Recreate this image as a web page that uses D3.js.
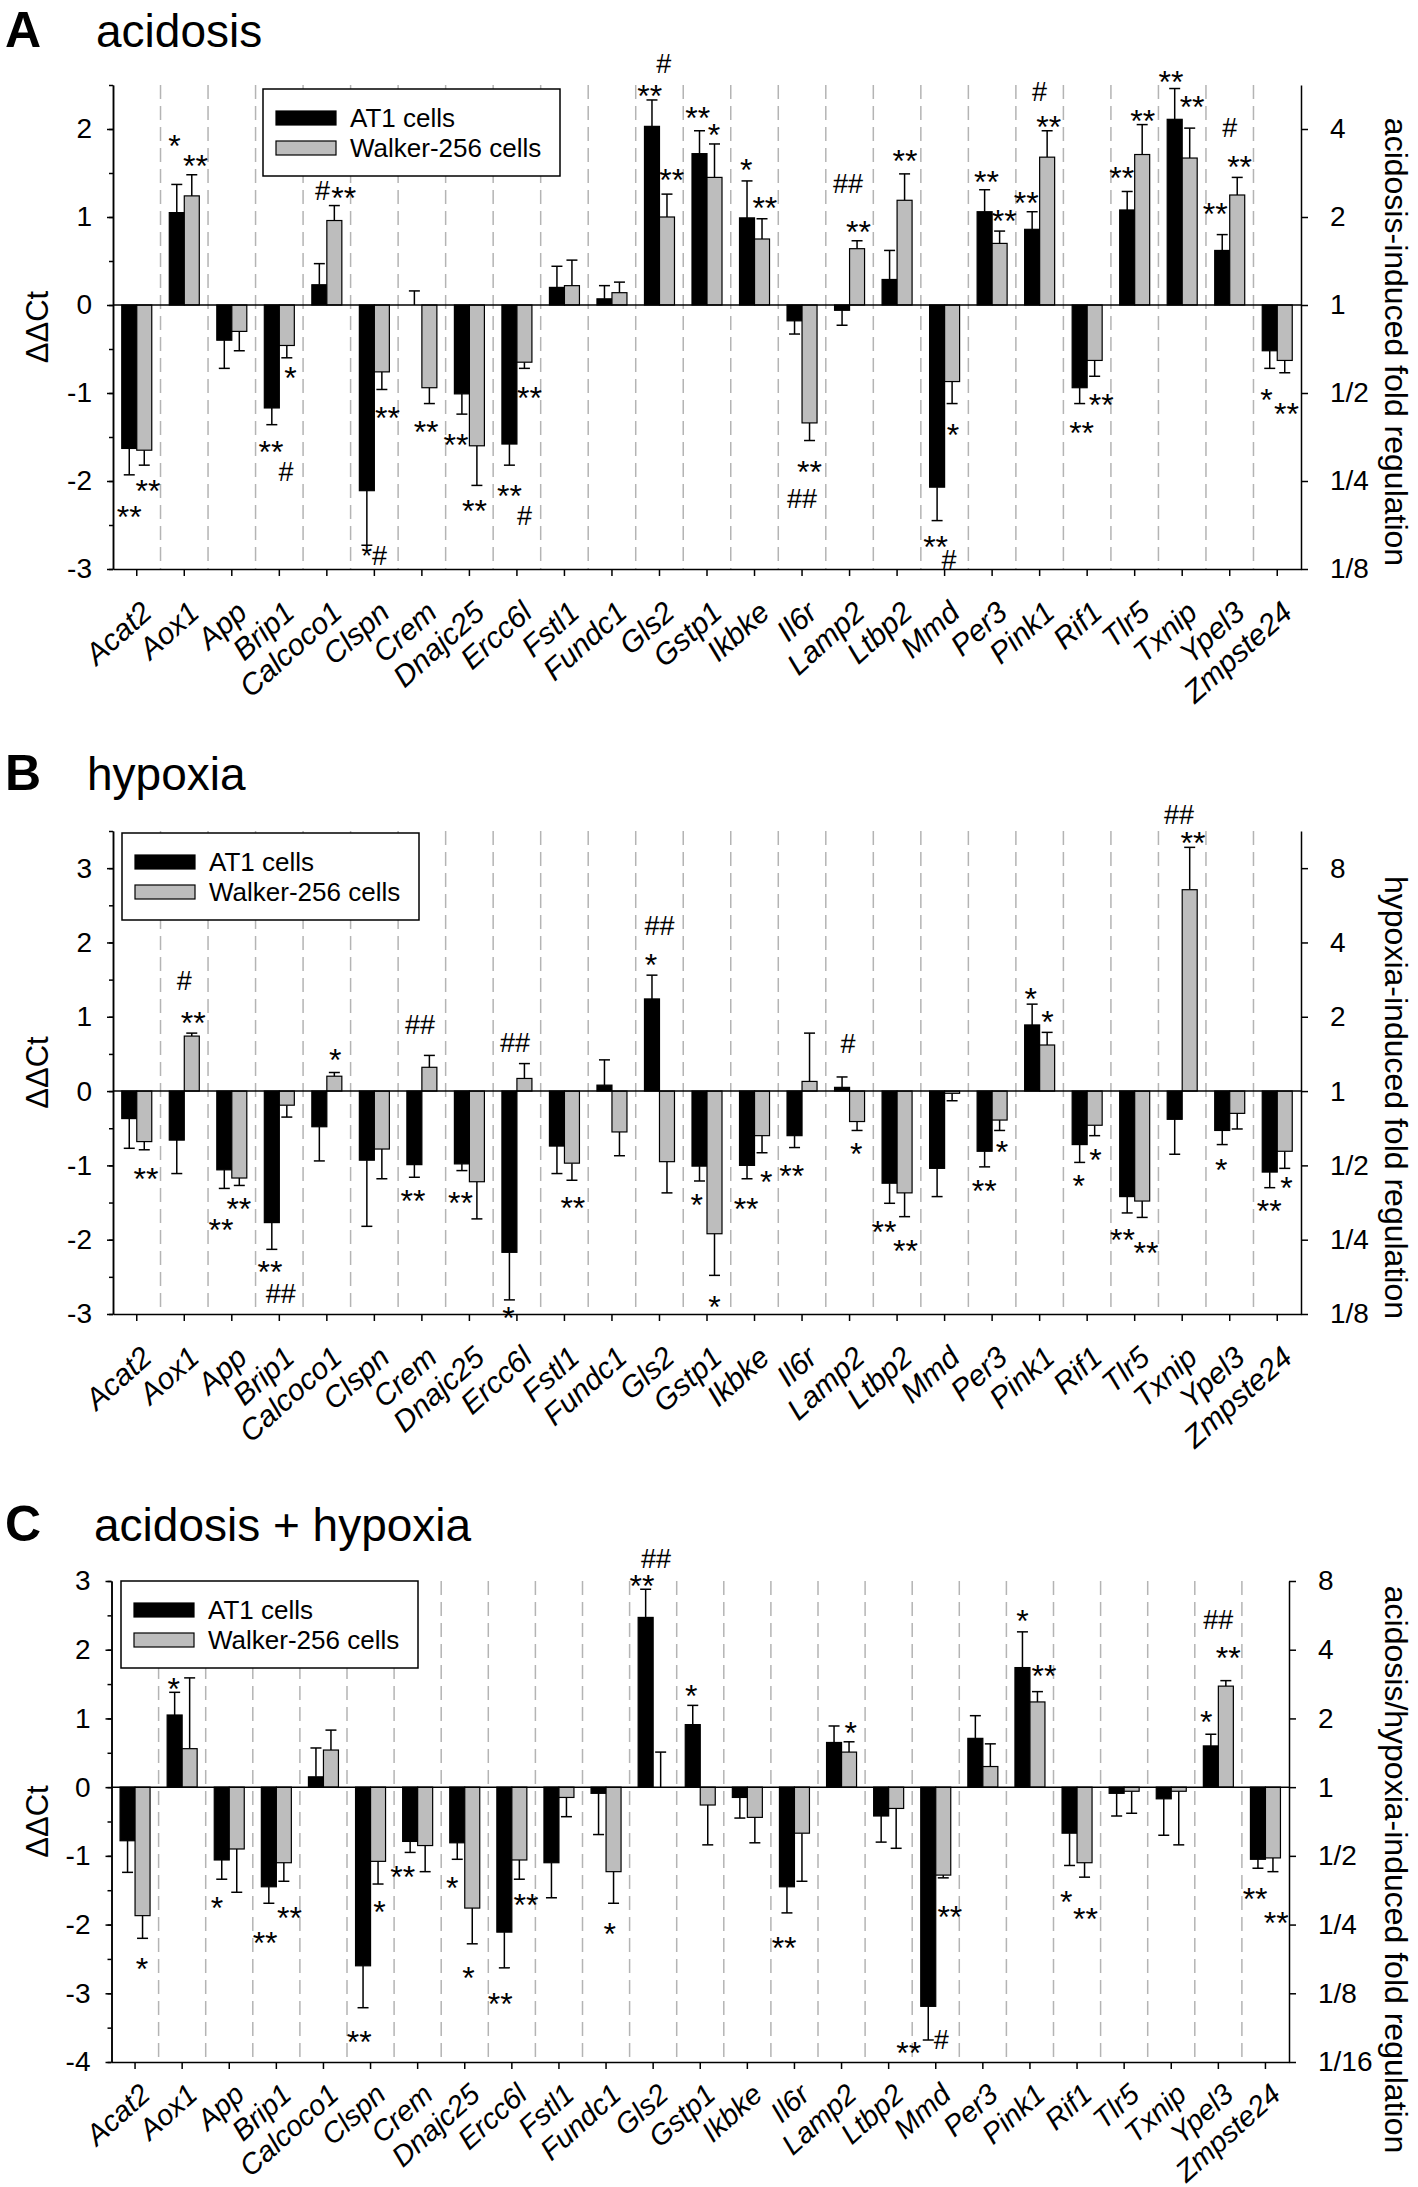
<!DOCTYPE html>
<html><head><meta charset="utf-8">
<script src="https://cdn.jsdelivr.net/npm/d3@7"></script>
<style>
body{margin:0;background:#fff}
svg{display:block}
text{font-family:Arial,"Liberation Sans",Helvetica,sans-serif;fill:#000}
</style>
</head><body>
<svg id="chart" width="1418" height="2187"></svg>
<script>
// ---------------- DATA ----------------
const genes = ["Acat2","Aox1","App","Brip1","Calcoco1","Clspn","Crem","Dnajc25","Ercc6l","Fstl1","Fundc1","Gls2","Gstp1","Ikbke","Il6r","Lamp2","Ltbp2","Mmd","Per3","Pink1","Rif1","Tlr5","Txnip","Ypel3","Zmpste24"];
const seriesNames = ["AT1 cells","Walker-256 cells"];

// Panel A: acidosis (ΔΔCt, error = SEM)
const acidAT1    = [-1.63,1.05,-0.40,-1.17,0.23,-2.11,0.00,-1.01,-1.58,0.20,0.07,2.03,1.72,0.99,-0.18,-0.06,0.29,-2.07,1.06,0.86,-0.94,1.08,2.11,0.62,-0.52];
const acidAT1Err = [0.30,0.32,0.32,0.19,0.24,0.62,0.16,0.23,0.24,0.24,0.15,0.30,0.26,0.42,0.15,0.17,0.33,0.38,0.25,0.20,0.18,0.21,0.35,0.18,0.20];
const acidW      = [-1.65,1.24,-0.30,-0.46,0.96,-0.76,-0.94,-1.60,-0.65,0.22,0.14,1.00,1.45,0.75,-1.34,0.64,1.19,-0.87,0.70,1.68,-0.63,1.71,1.67,1.25,-0.63];
const acidWErr   = [0.17,0.24,0.22,0.14,0.17,0.20,0.18,0.45,0.07,0.29,0.12,0.26,0.38,0.23,0.20,0.09,0.30,0.25,0.14,0.30,0.18,0.34,0.34,0.20,0.14];

// Panel B: hypoxia
const hypoAT1    = [-0.37,-0.66,-1.06,-1.77,-0.48,-0.93,-0.99,-0.98,-2.17,-0.74,0.08,1.24,-1.01,-1.00,-0.60,0.05,-1.24,-1.04,-0.81,0.89,-0.72,-1.42,-0.38,-0.53,-1.09];
const hypoAT1Err = [0.40,0.45,0.25,0.36,0.46,0.89,0.17,0.09,0.64,0.37,0.34,0.32,0.20,0.18,0.16,0.14,0.27,0.38,0.21,0.28,0.24,0.22,0.47,0.19,0.21];
const hypoW      = [-0.68,0.74,-1.17,-0.19,0.20,-0.78,0.32,-1.22,0.17,-0.97,-0.55,-0.95,-1.92,-0.60,0.13,-0.41,-1.37,-0.03,-0.39,0.62,-0.46,-1.48,2.71,-0.30,-0.81];
const hypoWErr   = [0.11,0.04,0.10,0.16,0.05,0.40,0.16,0.50,0.20,0.23,0.32,0.42,0.56,0.23,0.65,0.12,0.32,0.10,0.14,0.17,0.14,0.22,0.57,0.21,0.23];

// Panel C: acidosis + hypoxia
const bothAT1    = [-0.78,1.05,-1.06,-1.45,0.15,-2.60,-0.79,-0.81,-2.11,-1.10,-0.09,2.47,0.91,-0.15,-1.45,0.65,-0.42,-3.19,0.71,1.74,-0.67,-0.09,-0.17,0.60,-1.05];
const bothAT1Err = [0.46,0.33,0.28,0.24,0.42,0.61,0.16,0.24,0.52,0.51,0.60,0.41,0.28,0.30,0.38,0.24,0.38,0.49,0.33,0.52,0.47,0.33,0.53,0.17,0.13];
const bothW      = [-1.87,0.56,-0.90,-1.10,0.54,-1.08,-0.85,-1.76,-1.06,-0.15,-1.23,0.00,-0.26,-0.44,-0.67,0.51,-0.31,-1.28,0.30,1.24,-1.10,-0.06,-0.06,1.47,-1.03];
const bothWErr   = [0.33,1.03,0.63,0.27,0.29,0.33,0.38,0.52,0.28,0.28,0.46,0.51,0.58,0.37,0.70,0.15,0.58,0.04,0.33,0.15,0.21,0.32,0.78,0.08,0.20];

// significance marks: [gene index, offset in bar widths from gene centre, ΔΔCt level, text]
const acidMarks = [
 [0,-0.5,-2.33,"**"],[0,0.75,-2.04,"**"],[1,-0.65,1.88,"*"],[1,0.75,1.65,"**"],
 [3,-0.56,-1.59,"**"],[3,0.45,-1.90,"#"],[3,0.75,-0.755,"*"],[4,-0.28,1.29,"#"],[4,1.12,1.29,"**"],
 [5,0,-2.86,"*#"],[5,0.87,-1.21,"**"],[6,0.28,-1.37,"**"],[7,-0.9,-1.52,"**"],[7,0.34,-2.27,"**"],
 [8,-0.5,-2.09,"**"],[8,0.5,-2.40,"#"],[8,0.84,-0.98,"**"],[11,-0.65,2.45,"**"],[11,0.28,2.73,"#"],[11,0.81,1.49,"**"],
 [12,-0.62,2.2,"**"],[12,0.47,2.01,"*"],[13,-0.56,1.61,"*"],[13,0.69,1.18,"**"],[14,0.5,-1.82,"**"],[14,0,-2.21,"##"],
 [15,-0.1,1.375,"##"],[15,0.6,0.9,"**"],[16,0.53,1.71,"**"],[17,-0.6,-2.68,"**"],[17,0.3,-2.90,"#"],[17,0.56,-1.40,"*"],
 [18,-0.37,1.47,"**"],[18,0.81,1.03,"**"],[19,-0.9,1.23,"**"],[19,0,2.42,"#"],[19,0.6,2.10,"**"],
 [20,-0.37,-1.38,"**"],[20,0.94,-1.06,"**"],[21,-0.87,1.52,"**"],[21,0.53,2.17,"**"],[22,-0.75,2.61,"**"],[22,0.66,2.32,"**"],
 [23,-0.97,1.11,"**"],[23,0,2.01,"#"],[23,0.66,1.64,"**"],[24,-0.72,-1.0,"*"],[24,0.62,-1.16,"**"]
];
const hypoMarks = [
 [0,0.62,-1.10,"**"],[1,0,1.48,"#"],[1,0.6,1.0,"**"],[2,-0.72,-1.78,"**"],[2,0.47,-1.50,"**"],
 [3,-0.62,-2.35,"**"],[3,0.1,-2.73,"##"],[4,0.56,0.51,"*"],[6,-0.6,-1.39,"**"],[6,-0.12,0.885,"##"],
 [7,-0.6,-1.42,"**"],[8,-0.56,-2.96,"*"],[8,-0.12,0.64,"##"],[9,0.56,-1.49,"**"],[11,-0.56,1.79,"*"],[11,0,2.21,"##"],
 [12,-0.69,-1.45,"*"],[12,0.5,-2.82,"*"],[13,-0.56,-1.50,"**"],[13,0.78,-1.13,"*"],[14,-0.69,-1.05,"**"],
 [15,-0.1,0.63,"#"],[15,0.44,-0.76,"*"],[16,-0.87,-1.81,"**"],[16,0.56,-2.06,"**"],[18,-0.53,-1.25,"**"],[18,0.66,-0.73,"*"],
 [19,-0.6,1.33,"*"],[19,0.53,1.02,"*"],[20,-0.56,-1.19,"*"],[20,0.56,-0.84,"*"],[21,-0.81,-1.92,"**"],[21,0.75,-2.09,"**"],
 [22,-0.22,3.71,"##"],[22,0.72,3.43,"**"],[23,-0.56,-0.97,"*"],[24,-0.53,-1.53,"**"],[24,0.62,-1.22,"*"]
];
const bothMarks = [
 [0,0.47,-2.55,"*"],[1,-0.56,1.52,"*"],[2,-0.81,-1.67,"*"],[3,-0.75,-2.17,"**"],[3,0.87,-1.81,"**"],
 [5,-0.75,-3.61,"**"],[5,0.6,-1.72,"*"],[6,-1.0,-1.21,"**"],[7,-0.84,-1.37,"*"],[7,0.25,-2.68,"*"],
 [8,-0.78,-3.06,"**"],[8,0.94,-1.62,"**"],[10,0.25,-2.04,"*"],[11,-0.75,3.03,"**"],[11,0.19,3.31,"##"],[12,-0.6,1.42,"*"],
 [14,-0.69,-2.25,"**"],[15,0.62,0.89,"*"],[17,-1.8,-3.78,"**"],[17,0.37,-3.69,"#"],[17,0.94,-1.79,"**"],
 [19,-0.5,2.51,"*"],[19,0.94,1.71,"**"],[20,-0.72,-1.57,"*"],[20,0.56,-1.83,"**"],
 [23,-0.81,1.04,"*"],[23,0,2.42,"##"],[23,0.66,1.97,"**"],[24,-0.69,-1.53,"**"],[24,0.72,-1.88,"**"]
];

const ticksA = [-3,-2,-1,0,1,2];
const ticksB = [-3,-2,-1,0,1,2,3];
const ticksC = [-4,-3,-2,-1,0,1,2,3];

// ---------------- LAYOUT ----------------
const panels = [
 {letter:"A", title:"acidosis", rtitle:"acidosis-induced fold regulation",
  s0:acidAT1, e0:acidAT1Err, s1:acidW, e1:acidWErr, marks:acidMarks, ticks:ticksA, domain:[-3,2.5],
  x0:113, x1:1301, yTop:85, yBot:569, titleBase:47, titleX:96, legend:[263,89], labDy:46, labFs:30, rOff:15},
 {letter:"B", title:"hypoxia", rtitle:"hypoxia-induced fold regulation",
  s0:hypoAT1, e0:hypoAT1Err, s1:hypoW, e1:hypoWErr, marks:hypoMarks, ticks:ticksB, domain:[-3,3.5],
  x0:113, x1:1301, yTop:831, yBot:1314, titleBase:790, titleX:87, legend:[122,833], labDy:46, labFs:30, rOff:25},
 {letter:"C", title:"acidosis + hypoxia", rtitle:"acidosis/hypoxia-induced fold regulation",
  s0:bothAT1, e0:bothAT1Err, s1:bothW, e1:bothWErr, marks:bothMarks, ticks:ticksC, domain:[-4,3],
  x0:111.5, x1:1289, yTop:1581, yBot:2062, titleBase:1541, titleX:94, legend:[121,1581], labDy:35, labFs:29, rOff:48}
];

const svg = d3.select("#chart");
const fold = v => v >= 0 ? String(Math.pow(2, v)) : "1/" + Math.pow(2, -v);
const BW = 15;      // bar width
const GRAY = "#bdbdbd";
const STAR = 32;

panels.forEach(p => {
  const g = svg.append("g");
  const x = d3.scaleBand().domain(genes).range([p.x0, p.x1]);
  const y = d3.scaleLinear().domain(p.domain).range([p.yBot, p.yTop]);
  const cx = gname => x(gname) + x.bandwidth() / 2;

  // titles
  g.append("text").attr("x", 5).attr("y", p.titleBase).attr("font-size", 50).attr("font-weight", "bold").text(p.letter);
  g.append("text").attr("x", p.titleX).attr("y", p.titleBase).attr("font-size", 46).text(p.title);

  // dashed separators
  g.append("g").selectAll("line").data(genes.slice(1)).join("line")
    .attr("x1", d => x(d)).attr("x2", d => x(d))
    .attr("y1", p.yTop).attr("y2", p.yBot)
    .attr("stroke", "#b4b4b4").attr("stroke-width", 1.5).attr("stroke-dasharray", "14,7");

  // bars + error bars
  const series = [{v:p.s0, e:p.e0, fill:"#000", off:-1},
                  {v:p.s1, e:p.e1, fill:GRAY, off:0}];
  series.forEach(s => {
    const data = genes.map((gn, i) => ({gn, v:s.v[i], e:s.e[i]}));
    const end = d => y(d.v >= 0 ? d.v + d.e : d.v - d.e);
    const bx = d => cx(d.gn) + s.off*BW + BW/2;
    const gg = g.append("g");
    gg.selectAll("line.err").data(data).join("line").attr("class","err")
      .attr("x1", bx).attr("x2", bx).attr("y1", d => y(d.v)).attr("y2", end)
      .attr("stroke", "#000").attr("stroke-width", 1.5);
    gg.selectAll("line.cap").data(data).join("line").attr("class","cap")
      .attr("x1", d => bx(d) - 5.5).attr("x2", d => bx(d) + 5.5)
      .attr("y1", end).attr("y2", end)
      .attr("stroke", "#000").attr("stroke-width", 1.5);
    gg.selectAll("rect").data(data).join("rect")
      .attr("x", d => cx(d.gn) + s.off*BW).attr("width", BW)
      .attr("y", d => Math.min(y(d.v), y(0))).attr("height", d => Math.abs(y(d.v) - y(0)))
      .attr("fill", s.fill).attr("stroke", "#000").attr("stroke-width", 1.2);
  });

  // zero line
  g.append("line").attr("x1", p.x0).attr("x2", p.x1).attr("y1", y(0)).attr("y2", y(0))
    .attr("stroke", "#000").attr("stroke-width", 1.5);

  // significance marks
  g.append("g").selectAll("text").data(p.marks).join("text")
    .attr("x", d => cx(genes[d[0]]) + d[1]*BW)
    .attr("y", d => y(d[2]) + (/#/.test(d[3]) ? 0.32 * 27 : 0.55 * STAR))
    .attr("text-anchor", "middle")
    .attr("font-size", d => /#/.test(d[3]) ? 27 : STAR)
    .text(d => d[3]);

  // axes
  const minor = d3.range(p.domain[0], p.domain[1] + 0.001, 0.5);
  const left = g.append("g").attr("transform", `translate(${p.x0},0)`)
    .call(d3.axisLeft(y).tickValues(p.ticks).tickSize(6).tickSizeOuter(0).tickPadding(15).tickFormat(d => String(d)));
  g.append("g").attr("transform", `translate(${p.x0},0)`)
    .call(d3.axisLeft(y).tickValues(minor).tickSize(4).tickSizeOuter(0).tickFormat(""));
  const right = g.append("g").attr("transform", `translate(${p.x1},0)`)
    .call(d3.axisRight(y).tickValues(p.ticks).tickSize(7).tickSizeOuter(0).tickPadding(22).tickFormat(fold));
  g.append("g").attr("transform", `translate(0,${p.yBot})`)
    .call(d3.axisBottom(x).tickSize(7).tickSizeOuter(0).tickFormat(""));
  g.selectAll(".domain, .tick line").attr("stroke", "#000").attr("stroke-width", 1.5);
  [left, right].forEach(a => a.selectAll("text").attr("font-size", 28).attr("font-family", "Arial,'Liberation Sans',sans-serif").attr("fill", "#000"));

  // category labels
  g.append("g").selectAll("text").data(genes).join("text")
    .attr("transform", d => `translate(${cx(d) + 17},${p.yBot + p.labDy}) rotate(-42)`)
    .attr("text-anchor", "end").attr("font-size", p.labFs).attr("font-style", "italic")
    .text(d => d);

  // axis titles
  const mid = (p.yTop + p.yBot) / 2;
  g.append("text").attr("transform", `translate(48,${mid}) rotate(-90)`)
    .attr("text-anchor", "middle").attr("font-size", 31).text("ΔΔCt");
  g.append("text").attr("transform", `translate(1385,${mid + p.rOff}) rotate(90)`)
    .attr("text-anchor", "middle").attr("font-size", 32).text(p.rtitle);

  // legend
  const [lx, ly] = p.legend;
  const lg = g.append("g").attr("transform", `translate(${lx},${ly})`);
  lg.append("rect").attr("width", 297).attr("height", 87).attr("fill", "#fff").attr("stroke", "#000").attr("stroke-width", 1.5);
  [["#000", 0], [GRAY, 1]].forEach(([c, i]) => {
    lg.append("rect").attr("x", 13).attr("y", 22 + i*30).attr("width", 60).attr("height", 14)
      .attr("fill", c).attr("stroke", "#000").attr("stroke-width", 1.2);
    lg.append("text").attr("x", 87).attr("y", 29 + i*30).attr("dy", "0.36em").attr("font-size", 26).text(seriesNames[i]);
  });
});
</script>
</body></html>
